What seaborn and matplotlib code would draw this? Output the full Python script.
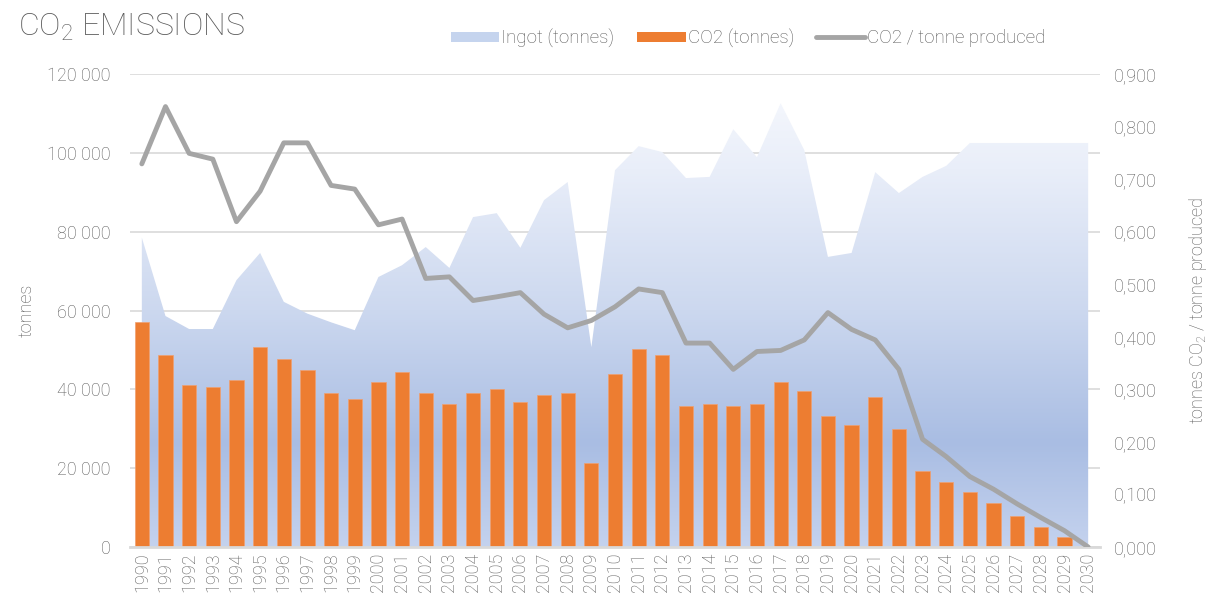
import numpy as np
import pandas as pd
import matplotlib
matplotlib.use("Agg")
import matplotlib.pyplot as plt
import seaborn as sns
from matplotlib.colors import LinearSegmentedColormap
from matplotlib.patches import Patch
from matplotlib.lines import Line2D
from matplotlib.ticker import FuncFormatter

years = [str(y) for y in range(1990, 2031)]

ingot_tonnes = [78500, 58600, 55300, 55300, 67700, 74600, 62200, 59200, 57000, 55000,
                68500, 71500, 76100, 70800, 83700, 84700, 75900, 88000, 92600, 50700,
                95600, 101700, 100200, 93600, 93900, 106000, 98900, 112600, 100700, 73600,
                74600, 95100, 89800, 93900, 96700, 102500, 102500, 102500, 102500, 102500,
                102500]

co2_tonnes = [57000, 48700, 41200, 40700, 42300, 50800, 47600, 45000, 39000, 37500,
              41800, 44400, 39000, 36400, 39000, 40100, 36900, 38500, 39000, 21200,
              43900, 50300, 48700, 35800, 36400, 35800, 36400, 41800, 39600, 33200,
              31000, 38000, 29900, 19200, 16500, 13900, 11200, 7900, 5200, 2500,
              0]

co2_per_tonne = [0.729, 0.838, 0.749, 0.738, 0.619, 0.677, 0.769, 0.769, 0.688, 0.681,
                 0.613, 0.624, 0.511, 0.514, 0.469, 0.476, 0.484, 0.443, 0.417, 0.431,
                 0.457, 0.491, 0.484, 0.388, 0.388, 0.338, 0.372, 0.374, 0.394, 0.446,
                 0.414, 0.394, 0.338, 0.205, 0.172, 0.134, 0.110, 0.082, 0.056, 0.031,
                 0.000]

left_ticks = [0, 20000, 40000, 60000, 80000, 100000, 120000]
right_ticks = [0.0, 0.1, 0.2, 0.3, 0.4, 0.5, 0.6, 0.7, 0.8, 0.9]

df = pd.DataFrame({"year": years, "ingot": ingot_tonnes, "co2": co2_tonnes,
                   "ratio": co2_per_tonne})
df["pos"] = np.arange(len(df))

sns.set_theme(style="white")
FONT = ["Roboto", "DejaVu Sans"]
plt.rcParams["font.family"] = FONT
plt.rcParams["font.weight"] = "light"
plt.rcParams["axes.labelweight"] = "light"
plt.rcParams["mathtext.fontset"] = "custom"
plt.rcParams["mathtext.rm"] = "Roboto:light"
plt.rcParams["mathtext.it"] = "Roboto:light"
plt.rcParams["mathtext.bf"] = "Roboto"

TXT = "#5a5a5a"
fig = plt.figure(figsize=(12.10, 5.99), dpi=100)
ax = fig.add_axes([130 / 1210, 1 - 547 / 599, 970 / 1210, 473 / 599])

# gradient-filled area for ingot
poly = ax.fill_between(df["pos"], df["ingot"], color="none", lw=0, zorder=1)
cmap = LinearSegmentedColormap.from_list(
    "grad",
    [(0.0, "#c4d2ee"), (0.22, "#a9bde3"), (0.5, "#ccd8ef"), (0.8, "#e9eef9"), (1.0, "#f8fafe")])
grad = np.linspace(0, 1, 256).reshape(-1, 1)
im = ax.imshow(grad, extent=[-0.5, 40.5, 0, 120000], aspect="auto", origin="lower",
               cmap=cmap, zorder=1, interpolation="bilinear")
im.set_clip_path(poly.get_paths()[0], transform=ax.transData)

# bars
sns.barplot(data=df, x="pos", y="co2", color="#ED7D31", width=0.6, saturation=1,
            ax=ax, zorder=2, native_scale=True, edgecolor="#f0a070", linewidth=0.5)

ax.set_xlim(-0.5, 40.5)
ax.set_ylim(0, 120000)
ax.set_yticks(left_ticks)
ax.yaxis.set_major_formatter(FuncFormatter(lambda v, p: f"{int(v):,}".replace(",", " ")))
ax.set_xticks(df["pos"])
ax.set_xticklabels(years, rotation=90)
ax.grid(axis="y", color="#d9d9d9", lw=1.2)
ax.grid(axis="x", visible=False)
ax.set_axisbelow(True)
for s in ["left", "right", "top"]:
    ax.spines[s].set_visible(False)
ax.spines["bottom"].set_color("#d9d9d9")
ax.spines["bottom"].set_linewidth(2)
ax.spines["bottom"].set_zorder(3)
ax.tick_params(axis="y", length=0, labelsize=13, labelcolor=TXT, pad=14)
ax.tick_params(axis="x", length=0, labelsize=13, labelcolor=TXT, pad=4)
ax.set_xlabel("")
ax.set_ylabel("tonnes", fontsize=13, color=TXT, labelpad=8, fontweight="light")

# line on secondary axis
ax2 = ax.twinx()
sns.lineplot(data=df, x="pos", y="ratio", color="#A5A5A5", lw=3.5, ax=ax2, zorder=4)
ax2.set_ylim(0, 0.9)
ax2.set_yticks(right_ticks)
ax2.yaxis.set_major_formatter(FuncFormatter(lambda v, p: f"{v:.3f}".replace(".", ",")))
ax2.set_xlim(-0.5, 40.5)
for s in ax2.spines.values():
    s.set_visible(False)
ax2.grid(False)
ax2.tick_params(axis="y", length=0, labelsize=13, labelcolor=TXT, pad=10)
ax2.set_xlabel("")
ax2.set_ylabel("tonnes CO$_2$ / tonne produced", fontsize=13, color=TXT, labelpad=22,
               fontweight="light")

# title
fig.text(18 / 1210, 1 - 27 / 599, "CO$_2$ EMISSIONS", fontsize=23, color="#595959",
         va="center", ha="left")

handles = [Patch(facecolor="#c5d4ee", edgecolor="none"),
           Patch(facecolor="#ED7D31", edgecolor="none"),
           Line2D([0], [0], color="#A5A5A5", lw=3.5)]
labels = ["Ingot (tonnes)", "CO2 (tonnes)", "CO2 / tonne produced"]
fig.legend(handles, labels, loc="center", bbox_to_anchor=(748 / 1210, 1 - 38 / 599),
           ncol=3, frameon=False, fontsize=13.5, labelcolor=TXT, handlelength=2.6,
           handleheight=0.45, handletextpad=0.1, columnspacing=1.2)

fig.savefig("out.png", dpi=100)
